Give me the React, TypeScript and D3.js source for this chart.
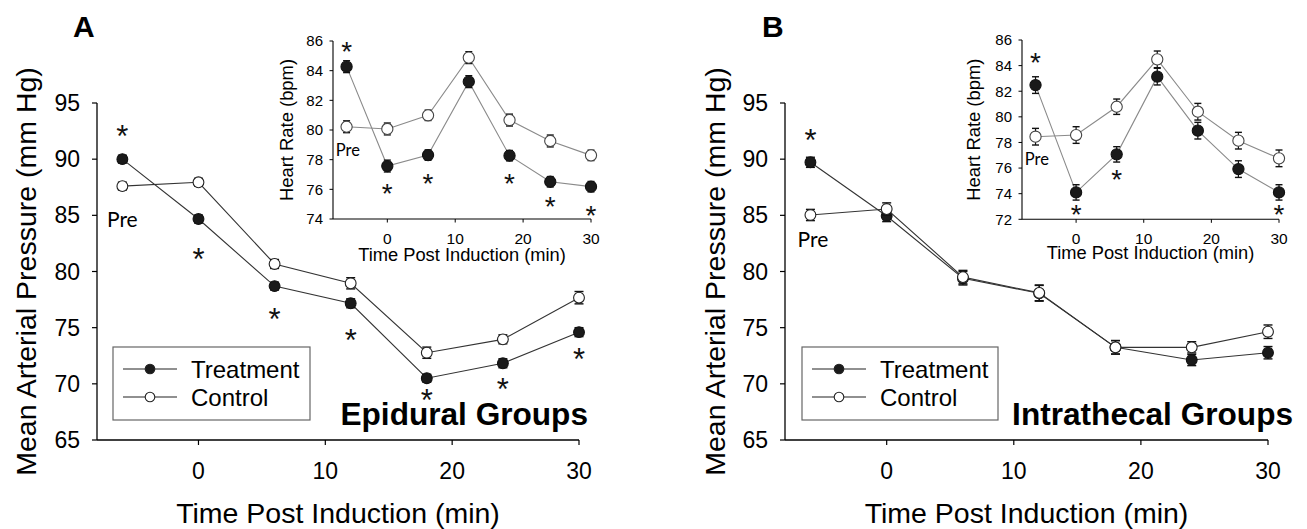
import React from 'react';
import * as d3 from 'd3';

// ---------- data ----------
const times = [-6, 0, 6, 12, 18, 24, 30];
const mainXTicks = [0, 10, 20, 30];
const mainYTicks = [65, 70, 75, 80, 85, 90, 95];
const insetXTicks = [0, 10, 20, 30];
const insetYTicksA = [74, 76, 78, 80, 82, 84, 86];
const insetYTicksB = [72, 74, 76, 78, 80, 82, 84, 86];

// Panel A (epidural) mean arterial pressure
const mapATreat = [90.0, 84.67, 78.7, 77.17, 70.5, 71.83, 74.6];
const mapATreatErr = [0.35, 0.35, 0.35, 0.4, 0.35, 0.4, 0.4];
const mapACtrl = [87.6, 87.94, 80.67, 78.95, 72.77, 73.96, 77.67];
const mapACtrlErr = [0.35, 0.35, 0.4, 0.5, 0.5, 0.4, 0.55];
const mapAStarTimes = [-6, 0, 6, 12, 18, 24, 30];
const mapAStarVals = [92.6, 81.65, 76.3, 74.5, 69.1, 70.07, 72.74];

// Panel A heart rate inset
const hrATreat = [84.27, 77.57, 78.31, 83.26, 78.27, 76.51, 76.18];
const hrATreatErr = [0.4, 0.4, 0.35, 0.4, 0.35, 0.35, 0.35];
const hrACtrl = [80.22, 80.07, 80.99, 84.88, 80.67, 79.26, 78.29];
const hrACtrlErr = [0.4, 0.4, 0.35, 0.4, 0.4, 0.4, 0.35];
const hrAStarTimes = [-6, 0, 6, 18, 24, 30];
const hrAStarVals = [85.73, 76.16, 76.83, 76.83, 75.28, 74.67];

// Panel B (intrathecal) mean arterial pressure
const mapBTreat = [89.72, 84.94, 79.4, 78.06, 73.25, 72.12, 72.77];
const mapBTreatErr = [0.45, 0.5, 0.6, 0.7, 0.6, 0.5, 0.55];
const mapBCtrl = [85.03, 85.56, 79.5, 78.1, 73.25, 73.25, 74.64];
const mapBCtrlErr = [0.5, 0.55, 0.6, 0.7, 0.6, 0.5, 0.6];
const mapBStarTimes = [-6];
const mapBStarVals = [92.3];

// Panel B heart rate inset
const hrBTreat = [82.48, 74.1, 77.07, 83.14, 78.92, 75.92, 74.1];
const hrBTreatErr = [0.65, 0.6, 0.6, 0.65, 0.65, 0.65, 0.6];
const hrBCtrl = [78.45, 78.58, 80.79, 84.49, 80.4, 78.14, 76.76];
const hrBCtrlErr = [0.65, 0.65, 0.6, 0.65, 0.65, 0.65, 0.65];
const hrBStarTimes = [-6, 0, 6, 30];
const hrBStarVals = [84.7, 72.85, 75.6, 72.85];

const legendLabels = ['Treatment', 'Control'];

const SANS = '"Liberation Sans", Arial, sans-serif';
const CAL = 'Lato, "Open Sans", sans-serif';

type Scale = d3.ScaleLinear<number, number>;

function Series(props: {
  x: Scale; y: Scale; vals: number[]; errs: number[]; filled: boolean;
  lineColor: string; r: number; capW: number; markerStroke: string;
}) {
  const { x, y, vals, errs, filled, lineColor, r, capW, markerStroke } = props;
  const pts = times.map((t, i) => [t, vals[i]] as [number, number]);
  const line = d3.line<[number, number]>().x(d => x(d[0])).y(d => y(d[1]));
  return (
    <g>
      <path d={line(pts) || ''} fill="none" stroke={lineColor} strokeWidth={1.1} />
      {pts.map((p, i) => {
        const cx = x(p[0]);
        const y1 = y(p[1] - errs[i]);
        const y2 = y(p[1] + errs[i]);
        return (
          <g key={i}>
            <line x1={cx} x2={cx} y1={y1} y2={y2} stroke="#111" strokeWidth={1.2} />
            <line x1={cx - capW / 2} x2={cx + capW / 2} y1={y1} y2={y1} stroke="#111" strokeWidth={1.4} />
            <line x1={cx - capW / 2} x2={cx + capW / 2} y1={y2} y2={y2} stroke="#111" strokeWidth={1.4} />
          </g>
        );
      })}
      {pts.map((p, i) => (
        <circle key={'c' + i} cx={x(p[0])} cy={y(p[1])} r={r}
          fill={filled ? '#1a1a1a' : '#fff'} stroke={markerStroke} strokeWidth={1.1} />
      ))}
    </g>
  );
}

function Stars(props: { x: Scale; y: Scale; ts: number[]; vs: number[]; fs: number }) {
  const { x, y, ts, vs, fs } = props;
  return (
    <g>
      {ts.map((t, i) => (
        <text key={i} x={x(t)} y={y(vs[i]) + 0.56 * fs} fontSize={fs} fontFamily={SANS}
          textAnchor="middle" fill="#111">*</text>
      ))}
    </g>
  );
}

interface PanelCfg {
  letter: string; letterX: number;
  mx: [number, number]; my: [number, number];
  ix: [number, number]; iy: [number, number]; iyDomain: [number, number]; iyTicks: number[];
  mapT: number[]; mapTE: number[]; mapC: number[]; mapCE: number[];
  mapST: number[]; mapSV: number[];
  hrT: number[]; hrTE: number[]; hrC: number[]; hrCE: number[];
  hrST: number[]; hrSV: number[];
  preMain: [number, number]; preInset: [number, number];
  yTitleX: number; iyTitleX: number; ixTitleY: number;
  legendX: number; legendW: number;
  group: string; groupX: number;
  ctrlOnTop: boolean;
}

function Panel({ c }: { c: PanelCfg }) {
  const x = d3.scaleLinear().domain([-8, 30]).range(c.mx);
  const y = d3.scaleLinear().domain([65, 95]).range(c.my);
  const ix = d3.scaleLinear().domain([-8, 30]).range(c.ix);
  const iy = d3.scaleLinear().domain(c.iyDomain).range(c.iy);
  const x0 = c.mx[0], yB = c.my[0];
  const ix0 = c.ix[0], iyB = c.iy[0];

  const treatMain = <Series x={x} y={y} vals={c.mapT} errs={c.mapTE} filled={true} lineColor="#333" r={5.4} capW={9} markerStroke="#111" />;
  const ctrlMain = <Series x={x} y={y} vals={c.mapC} errs={c.mapCE} filled={false} lineColor="#333" r={5.4} capW={9} markerStroke="#222" />;

  const ly = [369, 397];
  return (
    <g>
      {/* panel letter */}
      <text x={c.letterX} y={37} fontSize={30} fontWeight="bold" fontFamily={SANS}>{c.letter}</text>

      {/* main axes */}
      <line x1={x0} x2={x0} y1={c.my[1]} y2={yB} stroke="#000" strokeWidth={1.3} />
      <line x1={x0} x2={c.mx[1]} y1={yB} y2={yB} stroke="#000" strokeWidth={1.3} />
      {mainYTicks.map(t => (
        <g key={t}>
          <line x1={x0 - 5} x2={x0} y1={y(t)} y2={y(t)} stroke="#000" strokeWidth={1.2} />
          <text x={x0 - 17} y={y(t) + 8} fontSize={23} fontFamily={SANS} textAnchor="end">{t}</text>
        </g>
      ))}
      {mainXTicks.map(t => (
        <g key={t}>
          <line x1={x(t)} x2={x(t)} y1={yB} y2={yB + 5} stroke="#000" strokeWidth={1.2} />
          <text x={x(t)} y={yB + 39} fontSize={23} fontFamily={SANS} textAnchor="middle">{t}</text>
        </g>
      ))}
      <text x={(c.mx[0] + c.mx[1]) / 2} y={523} fontSize={28.5} fontFamily={SANS} textAnchor="middle">Time Post Induction (min)</text>
      <text transform={`translate(${c.yTitleX},${(c.my[0] + c.my[1]) / 2}) rotate(-90)`} fontSize={28.5} fontFamily={SANS} textAnchor="middle">Mean Arterial Pressure (mm Hg)</text>

      {/* main series */}
      {c.ctrlOnTop ? <>{treatMain}{ctrlMain}</> : <>{ctrlMain}{treatMain}</>}
      <Stars x={x} y={y} ts={c.mapST} vs={c.mapSV} fs={31} />
      <text x={x(c.preMain[0])} y={y(c.preMain[1])} fontSize={21} fontFamily={CAL} textAnchor="middle" dominantBaseline="central">Pre</text>

      {/* legend */}
      <rect x={c.legendX} y={347} width={c.legendW} height={73} fill="#fff" stroke="#666" strokeWidth={1.2} />
      {legendLabels.map((lab, i) => (
        <g key={lab}>
          <line x1={c.legendX + 10} x2={c.legendX + 64} y1={ly[i]} y2={ly[i]} stroke="#222" strokeWidth={1.1} />
          <circle cx={c.legendX + 37} cy={ly[i]} r={4.8} fill={i === 0 ? '#1a1a1a' : '#fff'} stroke="#222" strokeWidth={1.1} />
          <text x={c.legendX + 78} y={ly[i] + 9} fontSize={24} fontFamily={SANS}>{lab}</text>
        </g>
      ))}

      <text x={c.groupX} y={425} fontSize={31.6} fontWeight="bold" fontFamily={SANS} textAnchor="end">{c.group}</text>

      {/* inset axes */}
      <line x1={ix0} x2={ix0} y1={c.iy[1]} y2={iyB} stroke="#000" strokeWidth={1.1} />
      <line x1={ix0} x2={c.ix[1]} y1={iyB} y2={iyB} stroke="#000" strokeWidth={1.1} />
      {c.iyTicks.map(t => (
        <g key={t}>
          <line x1={ix0 - 3.5} x2={ix0} y1={iy(t)} y2={iy(t)} stroke="#000" strokeWidth={1} />
          <text x={ix0 - 10} y={iy(t) + 5.3} fontSize={15} fontFamily={SANS} textAnchor="end">{t}</text>
        </g>
      ))}
      {insetXTicks.map(t => (
        <g key={t}>
          <line x1={ix(t)} x2={ix(t)} y1={iyB} y2={iyB + 3.5} stroke="#000" strokeWidth={1} />
          <text x={ix(t)} y={244} fontSize={15.5} fontFamily={SANS} textAnchor="middle">{t}</text>
        </g>
      ))}
      <text x={(c.ix[0] + c.ix[1]) / 2} y={c.ixTitleY} fontSize={18.3} fontFamily={SANS} textAnchor="middle">Time Post Induction (min)</text>
      <text transform={`translate(${c.iyTitleX},${(c.iy[0] + c.iy[1]) / 2}) rotate(-90)`} fontSize={18.4} fontFamily={SANS} textAnchor="middle">Heart Rate (bpm)</text>

      <Series x={ix} y={iy} vals={c.hrC} errs={c.hrCE} filled={false} lineColor="#8a8a8a" r={5.6} capW={7} markerStroke="#444" />
      <Series x={ix} y={iy} vals={c.hrT} errs={c.hrTE} filled={true} lineColor="#8a8a8a" r={5.6} capW={7} markerStroke="#111" />
      <Stars x={ix} y={iy} ts={c.hrST} vs={c.hrSV} fs={28} />
      <text x={ix(c.preInset[0])} y={iy(c.preInset[1])} fontSize={16.5} fontFamily={CAL} textAnchor="middle" dominantBaseline="central">Pre</text>
    </g>
  );
}

const panelA: PanelCfg = {
  letter: 'A', letterX: 73,
  mx: [97, 579], my: [440, 103],
  ix: [333, 591], iy: [219, 41], iyDomain: [74, 86], iyTicks: insetYTicksA,
  mapT: mapATreat, mapTE: mapATreatErr, mapC: mapACtrl, mapCE: mapACtrlErr,
  mapST: mapAStarTimes, mapSV: mapAStarVals,
  hrT: hrATreat, hrTE: hrATreatErr, hrC: hrACtrl, hrCE: hrACtrlErr,
  hrST: hrAStarTimes, hrSV: hrAStarVals,
  preMain: [-6, 84.76], preInset: [-5.8, 78.65],
  yTitleX: 36, iyTitleX: 293, ixTitleY: 261,
  legendX: 113, legendW: 197,
  group: 'Epidural Groups', groupX: 588,
  ctrlOnTop: false,
};

const panelB: PanelCfg = {
  letter: 'B', letterX: 762,
  mx: [785, 1268], my: [440, 103],
  ix: [1022, 1279], iy: [219.3, 40], iyDomain: [72, 86], iyTicks: insetYTicksB,
  mapT: mapBTreat, mapTE: mapBTreatErr, mapC: mapBCtrl, mapCE: mapBCtrlErr,
  mapST: mapBStarTimes, mapSV: mapBStarVals,
  hrT: hrBTreat, hrTE: hrBTreatErr, hrC: hrBCtrl, hrCE: hrBCtrlErr,
  hrST: hrBStarTimes, hrSV: hrBStarVals,
  preMain: [-5.8, 82.9], preInset: [-5.8, 76.68],
  yTitleX: 725, iyTitleX: 980, ixTitleY: 259,
  legendX: 802, legendW: 196,
  group: 'Intrathecal Groups', groupX: 1293,
  ctrlOnTop: true,
};

export default function App() {
  return (
    <svg width={1307} height={529} style={{ position: 'absolute', left: 0, top: 0, background: '#fff' }}>
      <rect x={0} y={0} width={1307} height={529} fill="#fff" />
      <Panel c={panelA} />
      <Panel c={panelB} />
    </svg>
  );
}
